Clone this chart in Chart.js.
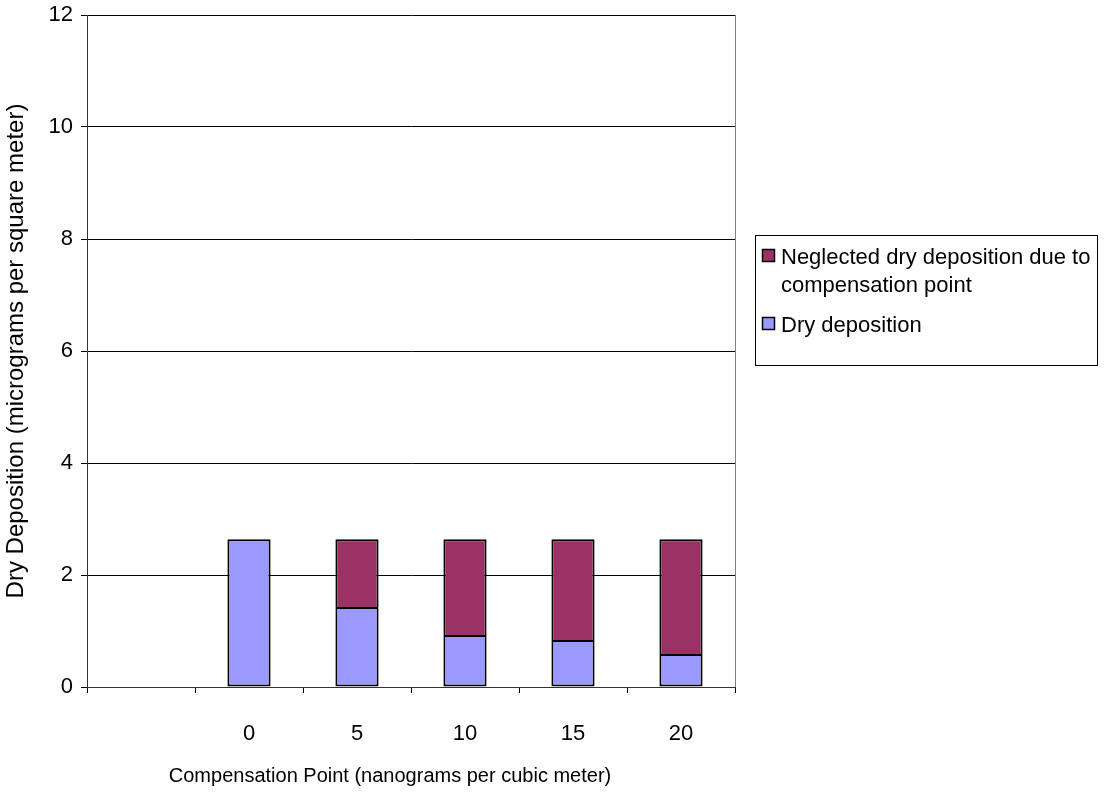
<!DOCTYPE html>
<html>
<head>
<meta charset="utf-8">
<script src="https://cdn.jsdelivr.net/npm/chart.js@4/dist/chart.umd.min.js"></script>
<style>
html,body{margin:0;padding:0;background:#fff;}
#wrap{width:1106px;height:794px;position:relative;}
</style>
</head>
<body>
<div id="wrap"><canvas id="c"></canvas></div>
<script>
const categories = ['', '0', '5', '10', '15', '20'];
const dryDeposition = [null, 2.64, 1.41, 0.91, 0.82, 0.57];
const neglected = [null, 0, 1.23, 1.73, 1.82, 2.07];
const yTicks = [0, 2, 4, 6, 8, 10, 12];
const xTitle = 'Compensation Point (nanograms per cubic meter)';

const FONT = "'Liberation Sans', Arial, sans-serif";
Chart.defaults.font.family = FONT;
Chart.defaults.font.size = 20;
Chart.defaults.color = '#000';

const legendItems = [
  {lines:['Neglected dry deposition due to','compensation point'], color:'#993366'},
  {lines:['Dry deposition'], color:'#9999FF'}
];

// legend box on the right + x title (Excel centres it on the whole chart, not the plot)
const boxLegend = {
  id:'boxLegend',
  afterDraw(chart){
    const ctx = chart.ctx;
    ctx.save();
    ctx.strokeStyle = '#000';
    ctx.lineWidth = 1;
    ctx.strokeRect(755.5, 235.5, 342, 130);
    ctx.font = '22px ' + FONT;
    ctx.textBaseline = 'middle';
    let y = 257;
    legendItems.forEach(it => {
      ctx.fillStyle = it.color;
      ctx.fillRect(762, y - 8, 12, 12);
      ctx.strokeStyle = '#000';
      ctx.lineWidth = 1.5;
      ctx.strokeRect(762.5, y - 7.5, 12, 12);
      ctx.fillStyle = '#000';
      it.lines.forEach((l, i) => ctx.fillText(l, 781, y + 1 + i * 28));
      y += it.lines.length * 28 + 12;
    });
    ctx.font = '20px ' + FONT;
    ctx.textAlign = 'center';
    ctx.fillText(xTitle, 390, 776);
    // right border of plot area
    const a = chart.chartArea;
    ctx.strokeStyle = '#808080';
    ctx.lineWidth = 1;
    ctx.beginPath();
    ctx.moveTo(a.right + 0.5, a.top);
    ctx.lineTo(a.right + 0.5, a.bottom);
    ctx.stroke();
    ctx.restore();
  }
};

new Chart(document.getElementById('c'), {
  type:'bar',
  data:{
    labels:categories,
    datasets:[
      {label:'Dry deposition', data:dryDeposition, backgroundColor:'#9999FF',
       borderColor:'#000', borderSkipped:false,
       borderWidth:c => ({left:2, right:2, bottom:2, top:neglected[c.dataIndex] ? 1 : 2}),
       barPercentage:0.4, categoryPercentage:1},
      {label:'Neglected dry deposition due to compensation point', data:neglected,
       backgroundColor:'#993366', borderColor:'#000', borderSkipped:false,
       borderWidth:c => neglected[c.dataIndex] ? {left:2, right:2, top:2, bottom:1} : 0,
       barPercentage:0.4, categoryPercentage:1}
    ]
  },
  options:{
    responsive:true, maintainAspectRatio:false, animation:false,
    layout:{padding:{top:15, right:371, left:0, bottom:0}},
    plugins:{legend:{display:false}, tooltip:{enabled:false}},
    scales:{
      x:{
        stacked:true,
        afterFit:s => { s.height = 107; s.paddingLeft = 0; s.paddingRight = 0; },
        grid:{drawOnChartArea:false, tickLength:6, color:'#000', offset:true},
        border:{color:'#333', width:1},
        ticks:{padding:28, maxRotation:0, font:{size:22}}
      },
      y:{
        stacked:true, min:0, max:12,
        afterFit:s => { s.width = 87; s.paddingTop = 0; s.paddingBottom = 0; },
        afterBuildTicks:s => { s.ticks = yTicks.map(v => ({value:v})); },
        grid:{color:'#000', tickLength:6, lineWidth:1},
        border:{color:'#333', width:1},
        ticks:{padding:8, font:{size:22}},
        title:{display:true, text:'Dry Deposition (micrograms per square meter)', font:{size:24}, padding:{bottom:0, top:2}}
      }
    }
  },
  plugins:[boxLegend]
});
</script>
</body>
</html>
